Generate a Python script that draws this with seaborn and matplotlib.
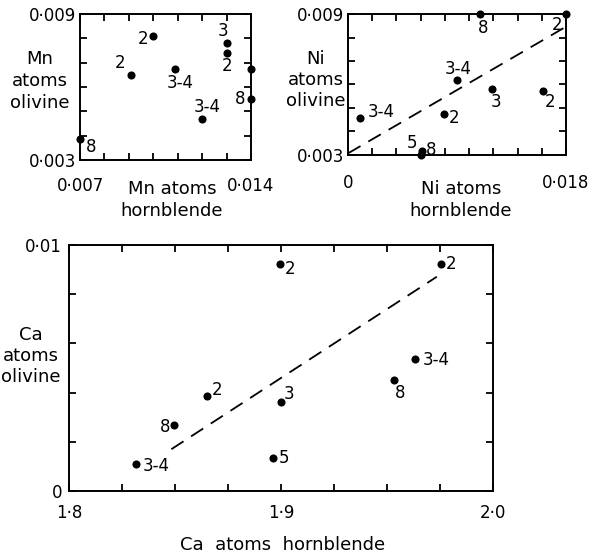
import matplotlib
matplotlib.use("Agg")
import matplotlib.pyplot as plt
import seaborn as sns
import pandas as pd

# ---------------- data ----------------
mn_hbl = [0.0070, 0.0091, 0.0100, 0.0109, 0.0120, 0.0130, 0.0130, 0.0140, 0.0140]
mn_ol = [0.00385, 0.00651, 0.0081, 0.00674, 0.00467, 0.00779, 0.00738, 0.00674, 0.00549]
mn_lab = ["8", "2", "2", "3-4", "3-4", "3", "2", "", "8"]

ni_hbl = [0.0010, 0.0060, 0.0061, 0.0079, 0.0090, 0.0109, 0.0119, 0.0161, 0.0180]
ni_ol = [0.00459, 0.0030, 0.00318, 0.00474, 0.00618, 0.0090, 0.00579, 0.00572, 0.0090]
ni_lab = ["3-4", "5", "8", "2", "3-4", "8", "3", "2", "2"]
ni_fit_x = [0.0, 0.018]
ni_fit_y = [0.00307, 0.00846]

ca_hbl = [1.8315, 1.8494, 1.8652, 1.8964, 1.9000, 1.8995, 1.9531, 1.9633, 1.9754]
ca_ol = [0.00109, 0.0027, 0.00387, 0.00134, 0.00362, 0.00921, 0.0045, 0.00537, 0.00921]
ca_lab = ["3-4", "8", "2", "5", "3", "2", "8", "3-4", "2"]
ca_fit_x = [1.8483, 1.9735]
ca_fit_y = [0.0017, 0.00871]

mn_xticks = [0.007, 0.008, 0.009, 0.010, 0.011, 0.012, 0.013, 0.014]
mn_xlabels = ["0\u00b7007", "", "", "", "", "", "", "0\u00b7014"]
mn_yticks = [0.003, 0.004, 0.005, 0.006, 0.007, 0.008, 0.009]
mn_ylabels = ["0\u00b7003", "", "", "", "", "", "0\u00b7009"]
ni_xticks = [0.0, 0.002, 0.004, 0.006, 0.008, 0.010, 0.012, 0.014, 0.016, 0.018]
ni_xlabels = ["0", "", "", "", "", "", "", "", "", "0\u00b7018"]
ni_yticks = mn_yticks
ni_ylabels = mn_ylabels
ca_xticks = [1.8, 1.825, 1.85, 1.875, 1.9, 1.925, 1.95, 1.975, 2.0]
ca_xlabels = ["1\u00b78", "", "", "", "1\u00b79", "", "", "", "2\u00b70"]
ca_yticks = [0.0, 0.002, 0.004, 0.006, 0.008, 0.010]
ca_ylabels = ["0", "", "", "", "", "0\u00b701"]

# label offsets in pixels (dx right, dy down) - layout only
mn_off = [(11, 8), (-11, -12), (-10, 3), (5, 14), (5, -12), (-4, -12), (0, 13), (0, 0), (-11, 0)]
ni_off = [(21, -6), (-9, -12), (9, -1), (10, 4), (1, -11), (3, 14), (4, 13), (7, 11), (-9, 11)]
ca_off = [(20, 2), (-9, 2), (10, -6), (11, 0), (8, -8), (10, 5), (7, 13), (21, 1), (10, 0)]

sns.set_style("ticks")
plt.rcParams["font.family"] = ["DejaVu Sans"]

fig = plt.figure(figsize=(6.0, 5.59), dpi=100)
ax1 = fig.add_axes([80 / 600, 1 - 160 / 559, 171 / 600, 146 / 559])
ax2 = fig.add_axes([348 / 600, 1 - 155 / 559, 218 / 600, 141 / 559])
ax3 = fig.add_axes([69 / 600, 1 - 491 / 559, 424 / 600, 246 / 559])


def panel(ax, xs, ys, labs, offs, xlim, ylim, xt, xl, yt, yl, xpad, ypad):
    df = pd.DataFrame({"x": xs, "y": ys})
    sns.scatterplot(data=df, x="x", y="y", ax=ax, color="black", s=34,
                    edgecolor="black", linewidth=0, clip_on=False, zorder=5)
    for x, y, t, (dx, dy) in zip(xs, ys, labs, offs):
        if t:
            ax.annotate(t, (x, y), xytext=(dx, -dy), textcoords="offset pixels",
                        ha="center", va="center", fontsize=12, color="black")
    ax.set_xlim(*xlim)
    ax.set_ylim(*ylim)
    ax.set_xticks(xt)
    ax.set_xticklabels(xl)
    ax.set_yticks(yt)
    ax.set_yticklabels(yl)
    ax.set_xlabel("")
    ax.set_ylabel("")
    ax.tick_params(direction="in", top=True, right=True, length=5, width=1.3,
                   labelsize=12, colors="black")
    ax.tick_params(axis="x", pad=xpad)
    ax.tick_params(axis="y", pad=ypad)
    for sp in ax.spines.values():
        sp.set_visible(True)
        sp.set_linewidth(1.4)
        sp.set_color("black")


panel(ax1, mn_hbl, mn_ol, mn_lab, mn_off, (0.007, 0.014), (0.003, 0.009),
      mn_xticks, mn_xlabels, mn_yticks, mn_ylabels, 12, 3)
panel(ax2, ni_hbl, ni_ol, ni_lab, ni_off, (0.0, 0.018), (0.003, 0.009),
      ni_xticks, ni_xlabels, ni_yticks, ni_ylabels, 14, 3)
panel(ax3, ca_hbl, ca_ol, ca_lab, ca_off, (1.8, 2.0), (0.0, 0.010),
      ca_xticks, ca_xlabels, ca_yticks, ca_ylabels, 9, 5)

sns.lineplot(x=ni_fit_x, y=ni_fit_y, ax=ax2, color="black", linewidth=1.3,
             dashes=False)
ax2.lines[-1].set_dashes((8, 5))
sns.lineplot(x=ca_fit_x, y=ca_fit_y, ax=ax3, color="black", linewidth=1.3,
             dashes=False)
ax3.lines[-1].set_dashes((8, 5))

# axis titles
lab_kw = dict(fontsize=13, ha="center", va="center", linespacing=1.25, color="black")
fig.text(40 / 600, 1 - 81 / 559, "Mn\natoms\nolivine", **lab_kw)
fig.text(172 / 600, 1 - 200 / 559, "Mn atoms\nhornblende", **lab_kw)
fig.text(316 / 600, 1 - 80 / 559, "Ni\natoms\nolivine", **lab_kw)
fig.text(461 / 600, 1 - 200 / 559, "Ni atoms\nhornblende", **lab_kw)
fig.text(31 / 600, 1 - 356 / 559, "Ca\natoms\nolivine", **lab_kw)
fig.text(283 / 600, 1 - 545 / 559, "Ca  atoms  hornblende", **lab_kw)

fig.savefig("out.png", dpi=100)
